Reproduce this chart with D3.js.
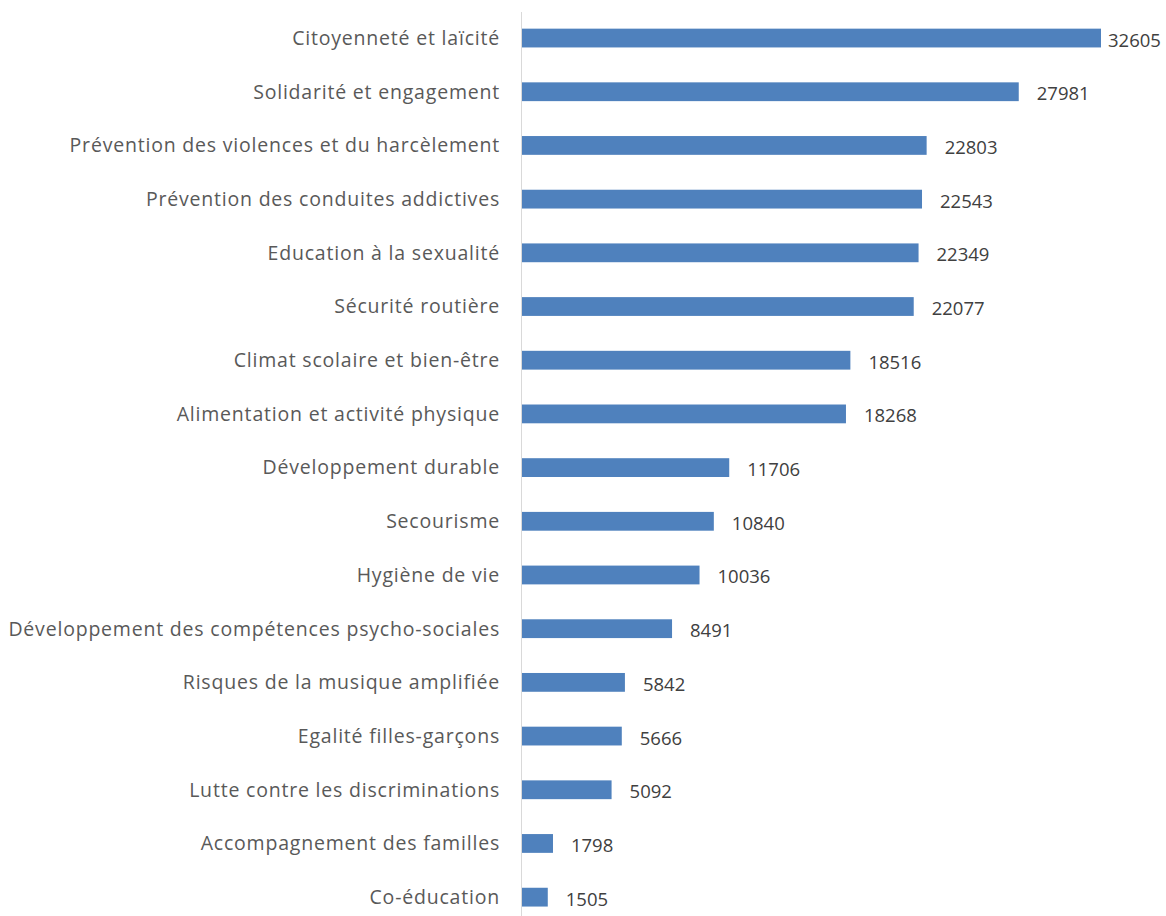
<!DOCTYPE html>
<html><head><meta charset="utf-8">
<script src="https://cdn.jsdelivr.net/npm/d3@7"></script>
<style>body{margin:0;background:#fff}svg{display:block}</style>
</head><body>
<script>
const categories = ["Citoyenneté et laïcité","Solidarité et engagement","Prévention des violences et du harcèlement","Prévention des conduites addictives","Education à la sexualité","Sécurité routière","Climat scolaire et bien-être","Alimentation et activité physique","Développement durable","Secourisme","Hygiène de vie","Développement des compétences psycho-sociales","Risques de la musique amplifiée","Egalité filles-garçons","Lutte contre les discriminations","Accompagnement des familles","Co-éducation"];
const values = [32605,27981,22803,22543,22349,22077,18516,18268,11706,10840,10036,8491,5842,5666,5092,1798,1505];

const W = 1166, H = 916;
const svg = d3.select("body").append("svg").attr("width", W).attr("height", H);
const font = "'Open Sans', 'Liberation Sans', sans-serif";

const x = d3.scaleLinear().domain([0, 32605]).range([521, 1101]);
const y = d3.scaleBand().domain(categories).range([11.2, 924]).paddingInner(0.65).paddingOuter(0.325);

svg.append("line").attr("x1", 521.5).attr("x2", 521.5).attr("y1", 12).attr("y2", 916)
  .attr("stroke", "#d9d9d9").attr("stroke-width", 1);

svg.selectAll("rect.bar").data(values).join("rect").attr("class","bar")
  .attr("x", x(0)+1).attr("y", (d,i)=>y(categories[i]))
  .attr("width", d=>x(d)-x(0)-1).attr("height", y.bandwidth())
  .attr("fill", "#4f81bd");

svg.selectAll("text.cat").data(categories).join("text").attr("class","cat")
  .attr("x", 500).attr("y", d=>y(d)+y.bandwidth()/2)
  .attr("dy","0.35em").attr("text-anchor","end")
  .attr("font-family", font).attr("font-size", 19.5).attr("letter-spacing", 0.8).attr("fill","#595959")
  .text(d=>d);

svg.selectAll("text.val").data(values).join("text").attr("class","val")
  .attr("x", d=>Math.min(x(d)+18, 1108)).attr("y", (d,i)=>y(categories[i])+y.bandwidth()/2+2)
  .attr("dy","0.35em").attr("text-anchor","start")
  .attr("font-family", font).attr("font-size", 18.5).attr("fill","#404040")
  .text(d=>d);
</script>
</body></html>
